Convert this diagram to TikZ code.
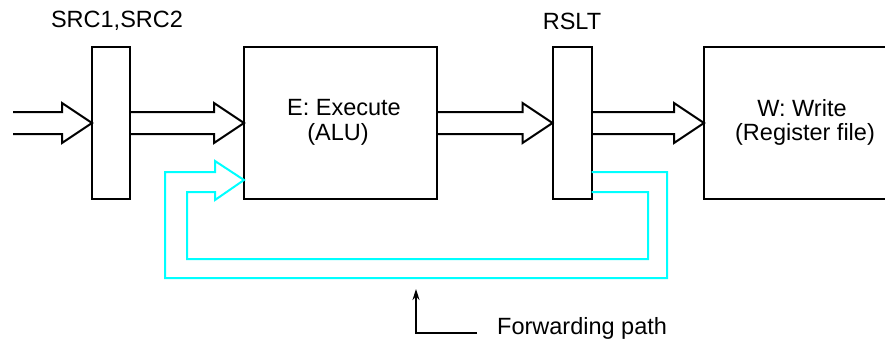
\documentclass[tikz,border=0pt]{standalone}
\usepackage{fontspec}
\setmainfont{Liberation Sans}
\usetikzlibrary{calc,arrows.meta}
\definecolor{fwdc}{RGB}{0,255,255}
\newcommand\fatarr[2]{\draw[fat] ($(#1)+(0,-11)$) -- ($(#2)+(-30,-11)$) -- ($(#2)+(-30,-20)$) -- (#2) -- ($(#2)+(-30,20)$) -- ($(#2)+(-30,11)$) -- ($(#1)+(0,11)$);}
\begin{document}
\begin{tikzpicture}[x=1pt,y=-1pt,
  box/.style={draw=black,line width=2pt,minimum height=152pt,inner sep=0pt,outer sep=0pt},
  fat/.style={draw=black,line width=2pt,line join=miter},
  fwd/.style={draw=fwdc,line width=2pt,line join=miter},
  lbl/.style={font=\fontsize{23.5}{26}\selectfont,inner sep=0pt}]
\clip (0,0) rectangle (885,346);
\fill[white] (0,0) rectangle (885,346);
\node[box,minimum width=38pt] (r1) at (111,123) {};
\node[box,minimum width=193pt] (E) at (340.5,123) {};
\node[box,minimum width=39pt] (r2) at (572,123) {};
\node[box,minimum width=200pt] (W) at (804,123) {};
\node[lbl] (l1) at (117,21) {SRC1,SRC2};
\node[lbl] (l2) at (572,21) {RSLT};
\node[lbl] (e1) at (344,108) {E: Execute};
\node[lbl] (e2) at (338,134) {(ALU)};
\node[lbl] (w1) at (802,108) {W: Write};
\node[lbl] (w2) at (805,134) {(Register file)};
\node[lbl,anchor=west] (fl) at (497,328) {Forwarding path};
\coordinate (in) at (13,123);
\fatarr{in}{r1.west}
\fatarr{r1.east}{E.west}
\fatarr{E.east}{r2.west}
\fatarr{r2.east}{W.west}
\coordinate (ft) at ($(E.south west)+(0,-19)$);
\draw[fwd] ($(r2.south east)+(0,-27)$) -- (667,172) -- (667,278) -- (165,278) -- (165,172) -- ($(ft)+(-29,-8)$) -- ($(ft)+(-29,-19)$) -- (ft) -- ($(ft)+(-29,20)$) -- ($(ft)+(-29,12)$) -- (187,192) -- (187,259) -- (648,259) -- (648,192) -- ($(r2.south east)+(0,-7)$);
\coordinate (fptip) at (416,289);
\draw[line width=1.6pt,-{Stealth[length=11pt,width=7pt]}] ($(fl.west)+(-20,5)$) -- (416,333) -- (fptip);
\end{tikzpicture}
\end{document}
